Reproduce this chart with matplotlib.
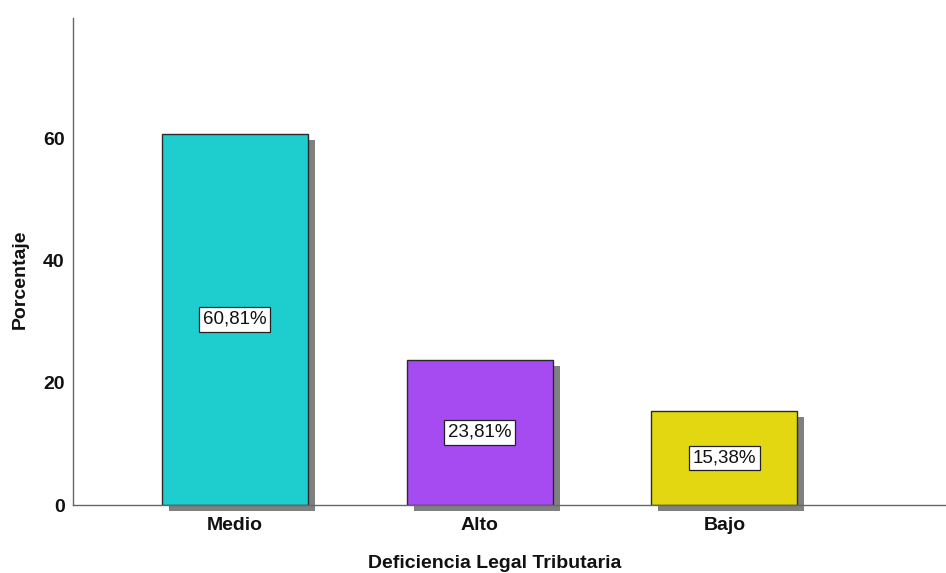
import matplotlib
matplotlib.use("Agg")
import matplotlib.pyplot as plt
import matplotlib.transforms as mtransforms

plt.rcParams['font.family'] = ['Liberation Sans', 'DejaVu Sans']

categories = ["Medio", "Alto", "Bajo"]
values = [60.81, 23.81, 15.38]
labels = ["60,81%", "23,81%", "15,38%"]
colors = ["#1ECECE", "#A64BF2", "#E2D711"]

fig = plt.figure(figsize=(9.46, 5.73), dpi=100)
ax = fig.add_axes([73/946, 68/573, 1 - 73/946, (505-18)/573])

x = list(range(len(categories)))
width = 0.596

shadow_tr = ax.transData + mtransforms.ScaledTranslation(7/100, -6/100, fig.dpi_scale_trans)
ax.bar(x, values, width=width, color="#808080", edgecolor="none",
       transform=shadow_tr, clip_on=False, zorder=1)
ax.bar(x, values, width=width, color=colors, edgecolor="#2a2a2a", linewidth=1.0, zorder=2)

for xi, v, lab in zip(x, values, labels):
    ax.text(xi, v / 2, lab, ha="center", va="center", fontsize=13.5, zorder=4, color="#111111",
            bbox=dict(boxstyle="square,pad=0.2", facecolor="white", edgecolor="#222222", linewidth=0.9))

ax.set_xlim(-0.661, 2.905)
ax.set_ylim(0, 79.8)
ax.set_yticks([0, 20, 40, 60])
ax.set_xticks(x)
ax.set_xticklabels(categories)
ax.tick_params(axis="y", length=0, labelsize=14, pad=6)
ax.tick_params(axis="x", length=0, labelsize=14, pad=9)
for t in ax.get_xticklabels() + ax.get_yticklabels():
    t.set_fontweight("bold")
    t.set_color("#111111")

for s in ["top", "right"]:
    ax.spines[s].set_visible(False)
for s in ["left", "bottom"]:
    ax.spines[s].set_color("#666666")
    ax.spines[s].set_linewidth(1.0)
ax.spines["bottom"].set_zorder(3)

ax.set_xlabel("Deficiencia Legal Tributaria", fontsize=14, fontweight="bold", color="#111111")
ax.set_ylabel("Porcentaje", fontsize=14, fontweight="bold", color="#111111")
ax.xaxis.label.set_va("center")
ax.yaxis.label.set_va("center")
ax.xaxis.set_label_coords(0.483, (505 - 563) / 487)
ax.yaxis.set_label_coords((20 - 73) / 873, (505 - 279) / 487)

fig.savefig("out.png", dpi=100)
